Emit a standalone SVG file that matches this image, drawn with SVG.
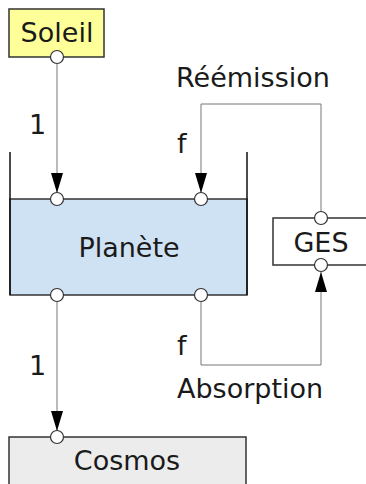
<svg xmlns="http://www.w3.org/2000/svg" width="366" height="484" viewBox="0 0 366 484">
<defs>
<style>
.box{stroke:#333;stroke-width:1.5}
.wall{stroke:#111;stroke-width:1.5;fill:none}
.con{stroke:#777;stroke-width:1;fill:none}
.port{fill:#fff;stroke:#333;stroke-width:1.2}
text{font-family:"DejaVu Sans",sans-serif;font-size:27px;fill:#1a1a1a}
.c{text-anchor:middle}
</style>
<marker id="arr" markerWidth="20" markerHeight="12" refX="20" refY="6" orient="auto" markerUnits="userSpaceOnUse" viewBox="0 0 20 12">
<path d="M0,0 L20,6 L0,12 Z" fill="#000"/>
</marker>
</defs>
<g id="connectors">
<path class="con" d="M57,63 V193" marker-end="url(#arr)"/>
<path class="con" d="M321,212 V104 H201 V193" marker-end="url(#arr)"/>
<path class="con" d="M201,301 V365 H321 V272" marker-end="url(#arr)"/>
<path class="con" d="M57,301 V431" marker-end="url(#arr)"/>
</g>
<g id="soleil">
<rect class="box" x="9" y="9" width="95" height="48" fill="#ffff99"/>
<text class="c" x="57" y="42">Soleil</text>
<circle class="port" cx="57" cy="57" r="6.5"/>
</g>
<g id="planete">
<rect class="box" x="10" y="199" width="237" height="96" fill="#cfe2f3"/>
<path class="wall" d="M10,152 V295 M247,152 V295"/>
<text class="c" x="129" y="257">Planète</text>
<circle class="port" cx="57" cy="199" r="6.5"/>
<circle class="port" cx="201" cy="199" r="6.5"/>
<circle class="port" cx="57" cy="295" r="6.5"/>
<circle class="port" cx="201" cy="295" r="6.5"/>
</g>
<g id="ges">
<rect class="box" x="273" y="218" width="96" height="47" fill="#fff"/>
<text class="c" x="321" y="252">GES</text>
<circle class="port" cx="321" cy="218" r="6.5"/>
<circle class="port" cx="321" cy="265" r="6.5"/>
</g>
<g id="cosmos">
<rect class="box" x="9" y="437" width="237" height="50" fill="#ececec"/>
<text class="c" x="127" y="470">Cosmos</text>
<circle class="port" cx="57" cy="437" r="6.5"/>
</g>
<g id="labels">
<text x="29" y="134">1</text>
<text x="29" y="375">1</text>
<text x="177" y="153">f</text>
<text x="177" y="355">f</text>
<text x="176" y="87">Réémission</text>
<text x="177" y="398">Absorption</text>
</g>
</svg>
